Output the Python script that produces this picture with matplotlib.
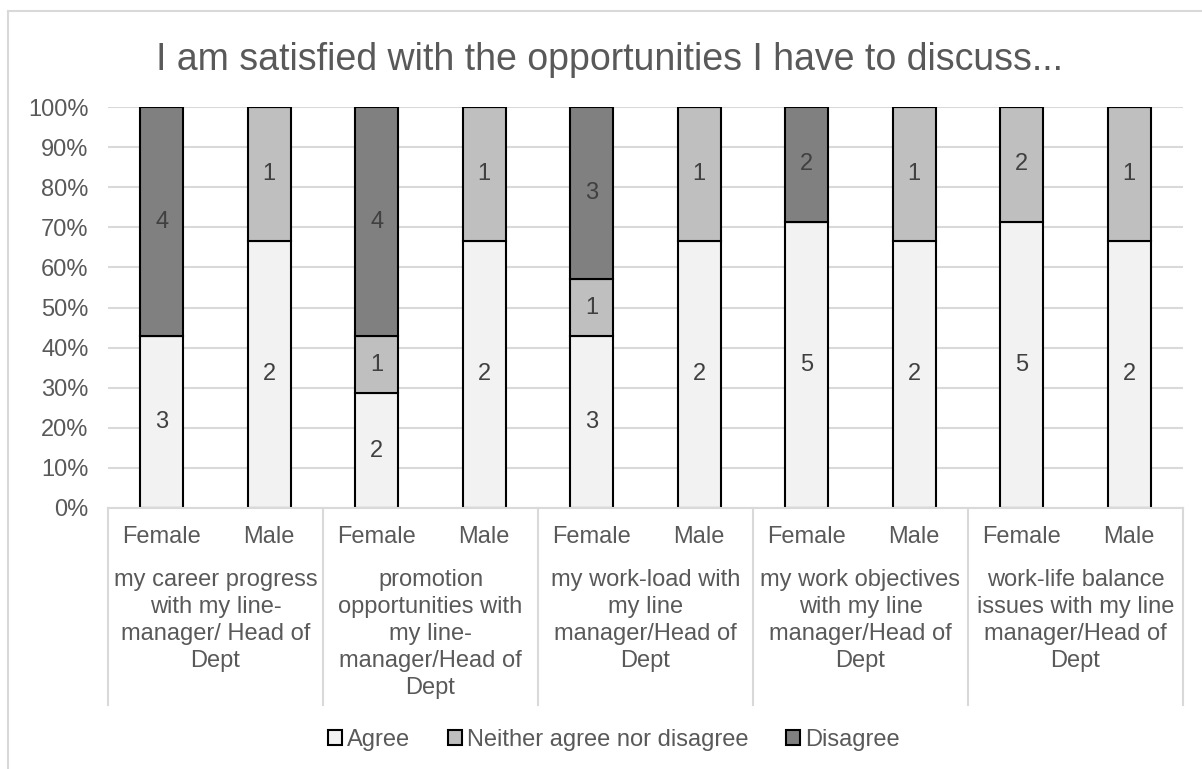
import matplotlib
matplotlib.use("Agg")
import matplotlib.pyplot as plt
from matplotlib.patches import Rectangle
from matplotlib.lines import Line2D
import matplotlib.transforms as mtransforms
import numpy as np

plt.rcParams['font.family'] = ['Liberation Sans', 'DejaVu Sans']

title = "I am satisfied with the opportunities I have to discuss..."
topics = [
    "my career progress\nwith my line-\nmanager/ Head of\nDept",
    "promotion\nopportunities with\nmy line-\nmanager/Head of\nDept",
    "my work-load with\nmy line\nmanager/Head of\nDept",
    "my work objectives\nwith my line\nmanager/Head of\nDept",
    "work-life balance\nissues with my line\nmanager/Head of\nDept",
]
genders = ["Female", "Male"]
series_names = ["Agree", "Neither agree nor disagree", "Disagree"]
# counts per bar, ordered topic by topic (Female, Male)
agree    = [3, 2, 2, 2, 3, 2, 5, 2, 5, 2]
neither  = [0, 1, 1, 1, 1, 1, 0, 1, 2, 1]
disagree = [4, 0, 4, 0, 3, 0, 2, 0, 0, 0]
y_ticks = [0, 10, 20, 30, 40, 50, 60, 70, 80, 90, 100]

fills = ["#F2F2F2", "#BFBFBF", "#808080"]
text_col = "#595959"
label_col = "#404040"
grid_col = "#D9D9D9"
fs = 17

W, H = 1202, 769
fig = plt.figure(figsize=(W / 100, H / 100), dpi=100)

# chart-area frame (left and top edges fall inside the canvas)
fig.add_artist(Line2D([8 / W, 8 / W], [0, 1 - 11 / H], color=grid_col, lw=1.5,
                      transform=fig.transFigure))
fig.add_artist(Line2D([8 / W, 1], [1 - 11 / H, 1 - 11 / H], color=grid_col, lw=1.5,
                      transform=fig.transFigure))

left, right, top, bottom = 108, 1183, 107, 508
ax = fig.add_axes([left / W, 1 - bottom / H, (right - left) / W, (bottom - top) / H])

counts = np.array([agree, neither, disagree], dtype=float)
totals = counts.sum(axis=0)
pct = counts / totals * 100
n = counts.shape[1]
x = np.arange(n)

base = np.zeros(n)
for k in range(3):
    ax.bar(x, pct[k], bottom=base, width=0.4, color=fills[k],
           edgecolor="black", linewidth=1.5, zorder=3)
    for i in range(n):
        if counts[k, i] > 0:
            ax.text(x[i], base[i] + pct[k, i] / 2, f"{int(counts[k, i])}",
                    ha="center", va="center", fontsize=fs, color=label_col, zorder=4)
    base += pct[k]

ax.set_xlim(-0.5, n - 0.5)
ax.set_ylim(0, 100)
ax.set_yticks(y_ticks)
ax.set_yticklabels([f"{t}%" for t in y_ticks], fontsize=fs, color=text_col)
ax.tick_params(axis="y", length=0, pad=14)
ax.tick_params(axis="x", length=0, labelbottom=False)
ax.yaxis.grid(True, color=grid_col, linewidth=1.5, zorder=0)
for s in ["left", "right", "top"]:
    ax.spines[s].set_visible(False)
ax.spines["bottom"].set_color(grid_col)
ax.spines["bottom"].set_linewidth(1.5)
ax.spines["bottom"].set_zorder(5)

# two-level category axis
trans = mtransforms.blended_transform_factory(ax.transData, ax.transAxes)
ph = bottom - top
def ay(py):
    return (bottom - py) / ph

for i in range(n):
    ax.text(x[i], ay(537), genders[i % 2], transform=trans, ha="center", va="center",
            fontsize=fs, color=text_col)
for g, name in enumerate(topics):
    ax.text(2 * g + 0.5, ay(569), name, transform=trans, ha="center", va="top",
            fontsize=fs, color=text_col, linespacing=1.3)
for g in range(len(topics) + 1):
    ax.add_line(Line2D([2 * g - 0.5, 2 * g - 0.5], [0, ay(705)], transform=trans,
                       color=grid_col, lw=1.5, clip_on=False))

fig.text(609 / W, 1 - 60 / H, title, ha="center", va="center", fontsize=27, color=text_col)

handles = [Rectangle((0, 0), 1, 1, facecolor=fills[k], edgecolor="black", linewidth=1.5)
           for k in range(3)]
fig.legend(handles, series_names, loc="center", bbox_to_anchor=(614 / W, 1 - 740 / H),
           ncol=3, frameon=False, fontsize=fs, handlelength=0.6, handleheight=0.6,
           handletextpad=0.2, columnspacing=1.6, labelcolor=text_col)

fig.savefig("out.png", dpi=100, facecolor="white")
